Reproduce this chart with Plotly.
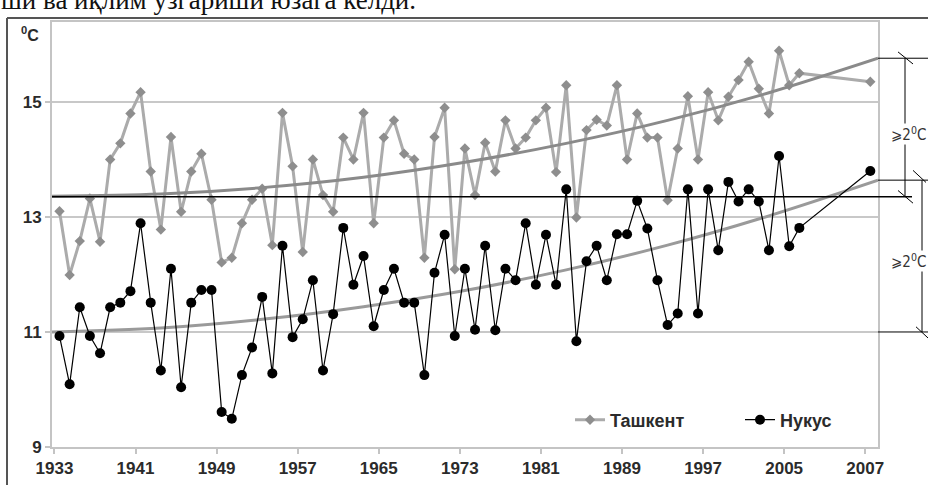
import plotly.graph_objects as go

# ---------------- data ----------------
years = list(range(1933, 2007)) + [2007]
# category slot of each year on the axis (the chart leaves empty slots before 2007)
slots = list(range(0, 74)) + [80]

tashkent = [13.10, 11.99, 12.58, 13.32, 12.57, 14.00, 14.28, 14.80, 15.17, 13.79,
            12.78, 14.39, 13.09, 13.79, 14.10, 13.30, 12.21, 12.29, 12.89, 13.30,
            13.49, 12.51, 14.81, 13.88, 12.39, 14.00, 13.38, 13.09, 14.38, 14.00,
            14.81, 12.89, 14.38, 14.68, 14.10, 14.00, 12.29, 14.39, 14.90, 12.09,
            14.19, 13.38, 14.29, 13.79, 14.68, 14.19, 14.38, 14.68, 14.90, 13.78,
            15.29, 12.99, 14.51, 14.69, 14.59, 15.29, 14.00, 14.80, 14.38, 14.38,
            13.29, 14.19, 15.10, 14.00, 15.17, 14.68, 15.09, 15.38, 15.70, 15.23,
            14.80, 15.89, 15.29, 15.50, 15.35]

nukus = [10.93, 10.09, 11.43, 10.93, 10.63, 11.43, 11.51, 11.71, 12.89, 11.51,
         10.33, 12.10, 10.04, 11.51, 11.73, 11.73, 9.61, 9.49, 10.25, 10.73,
         11.61, 10.28, 12.50, 10.91, 11.22, 11.90, 10.33, 11.31, 12.81, 11.82,
         12.32, 11.10, 11.73, 12.10, 11.51, 11.51, 10.25, 12.03, 12.69, 10.93,
         12.10, 11.04, 12.50, 11.03, 12.10, 11.90, 12.89, 11.82, 12.69, 11.82,
         13.48, 10.84, 12.23, 12.50, 11.90, 12.70, 12.70, 13.28, 12.80, 11.90,
         11.12, 11.32, 13.48, 11.32, 13.48, 12.42, 13.61, 13.27, 13.48, 13.27,
         12.42, 14.06, 12.49, 12.81, 13.80]

# trend curves, values read at a few axis slots
trend_slots = [-0.74, 10, 20, 30, 40, 50, 60, 70, 80.76]
tashkent_trend = [13.36, 13.40, 13.51, 13.69, 13.95, 14.28, 14.68, 15.16, 15.76]
nukus_trend = [11.00, 11.07, 11.22, 11.44, 11.72, 12.08, 12.51, 13.02, 13.64]

tick_years = [1933, 1941, 1949, 1957, 1965, 1973, 1981, 1989, 1997, 2005, 2007]
y_ticks = [9, 11, 13, 15]
base_level = 13.35          # initial Tashkent level (black reference line)
rise_label = "⩾2<sup>0</sup>C"
names = ["Ташкент", "Нукус"]

# ---------------- figure ----------------
W, H = 928, 485
ML, MR, MT, MB = 52, 50, 22, 38
PW, PH = W - ML - MR, H - MT - MB


def px(xp):
    return (xp - ML) / PW


def py(yp):
    return (H - MB - yp) / PH


FONT = "Liberation Sans, Arial, sans-serif"
TXT = "#2b2b2b"

fig = go.Figure()

fig.add_trace(go.Scatter(
    x=slots, y=tashkent, name=names[0], mode="lines+markers",
    line=dict(color="#ababab", width=3),
    marker=dict(symbol="diamond", size=8, color="#8e8e8e"),
))
fig.add_trace(go.Scatter(
    x=trend_slots, y=tashkent_trend, mode="lines", showlegend=False,
    line=dict(color="#8a8a8a", width=3, shape="spline"), hoverinfo="skip",
))
fig.add_trace(go.Scatter(
    x=trend_slots, y=nukus_trend, mode="lines", showlegend=False,
    line=dict(color="#9a9a9a", width=3, shape="spline"), hoverinfo="skip",
))
fig.add_trace(go.Scatter(
    x=slots, y=nukus, name=names[1], mode="lines+markers",
    line=dict(color="#000000", width=1.2),
    marker=dict(symbol="circle", size=10, color="#000000"),
))

tickvals = [slots[years.index(y)] - 0.5 for y in tick_years]

fig.update_layout(
    width=W, height=H, autosize=False,
    margin=dict(l=ML, r=MR, t=MT, b=MB, pad=0, autoexpand=False),
    paper_bgcolor="white", plot_bgcolor="white",
    font=dict(family=FONT, color=TXT),
    xaxis=dict(
        range=[-0.74, 80.76], tickvals=tickvals, automargin=False,
        ticktext=[str(y) for y in tick_years],
        showgrid=False, zeroline=False,
        showline=True, linecolor="#c4c4c4", linewidth=2, mirror=True,
        ticks="outside", ticklen=5, tickcolor="#c4c4c4", tickwidth=1.5,
        tickfont=dict(size=17, weight="bold", color=TXT),
    ),
    yaxis=dict(
        range=[9, 16.39], tickvals=y_ticks, automargin=False,
        showgrid=True, gridcolor="#c8c8c8", gridwidth=2, zeroline=False,
        showline=True, linecolor="#c4c4c4", linewidth=2, mirror=True,
        ticks="outside", ticklen=5, tickcolor="#c4c4c4", tickwidth=1.5,
        tickfont=dict(size=17, weight="bold", color=TXT),
    ),
    legend=dict(
        orientation="h", x=px(570), y=py(420), xanchor="left", yanchor="middle",
        bgcolor="rgba(0,0,0,0)", font=dict(size=18, weight="bold", color=TXT),
        entrywidth=125, entrywidthmode="pixels",
    ),
    showlegend=True,
)

shapes = []
# black reference line at the initial level
shapes.append(dict(type="line", xref="paper", yref="y", x0=0, x1=px(912),
                   y0=base_level, y1=base_level, line=dict(color="black", width=1.5)))
# outer frame of the scanned figure
shapes.append(dict(type="line", xref="paper", yref="paper", x0=px(7), x1=px(7),
                   y0=py(18), y1=py(H + 5), line=dict(color="#555", width=2)))
shapes.append(dict(type="line", xref="paper", yref="paper", x0=px(7), x1=px(W + 5),
                   y0=py(18), y1=py(18), line=dict(color="#555", width=2)))

t_end, n_end, n_start = tashkent_trend[-1], nukus_trend[-1], nukus_trend[0]
blk = dict(color="black", width=1)
# upper bracket (Tashkent)
shapes += [
    dict(type="line", xref="paper", yref="y", x0=1.0, x1=px(W + 5), y0=t_end, y1=t_end, line=blk),
    dict(type="line", xref="paper", yref="y", x0=px(905), x1=px(905), y0=t_end, y1=base_level, line=blk),
    dict(type="line", xref="paper", yref="y", x0=px(898), x1=px(913), y0=t_end + 0.11, y1=t_end - 0.1, line=blk),
    dict(type="line", xref="paper", yref="y", x0=px(898), x1=px(913), y0=base_level + 0.11, y1=base_level - 0.11, line=blk),
]
# lower bracket (Nukus)
shapes += [
    dict(type="line", xref="paper", yref="y", x0=1.0, x1=px(W + 5), y0=n_end, y1=n_end, line=blk),
    dict(type="line", xref="paper", yref="y", x0=px(922), x1=px(922), y0=n_end, y1=n_start, line=blk),
    dict(type="line", xref="paper", yref="y", x0=1.0, x1=px(W + 5), y0=n_start, y1=n_start, line=blk),
    dict(type="line", xref="paper", yref="y", x0=px(913), x1=px(926), y0=n_end + 0.17, y1=n_end - 0.04, line=blk),
    dict(type="line", xref="paper", yref="y", x0=px(916), x1=px(929), y0=n_start + 0.09, y1=n_start - 0.12, line=blk),
]
fig.update_layout(shapes=shapes)

annotations = [
    dict(text="ши ва иқлим ўзгариши юзага келди.", xref="paper", yref="paper",
         x=px(-1), y=py(17), xanchor="left", yanchor="bottom", showarrow=False,
         font=dict(family="Liberation Serif, Times New Roman, serif", size=27, color="#111")),
    dict(text="<sup>0</sup>C", xref="paper", yref="paper", x=px(30), y=py(34),
         xanchor="center", yanchor="middle", showarrow=False,
         font=dict(size=16, weight="bold", color=TXT)),
    dict(text=rise_label, xref="paper", yref="y", x=px(927), y=14.45,
         xanchor="right", yanchor="middle", showarrow=False, bgcolor="white",
         borderpad=0,
         font=dict(family="DejaVu Sans Condensed, DejaVu Sans, sans-serif", size=15, color="#333")),
    dict(text=rise_label, xref="paper", yref="y", x=px(927), y=12.23,
         xanchor="right", yanchor="middle", showarrow=False, bgcolor="white",
         borderpad=0,
         font=dict(family="DejaVu Sans Condensed, DejaVu Sans, sans-serif", size=15, color="#333")),
]
fig.update_layout(annotations=annotations)

fig.write_html("out.html", config={"displayModeBar": False},
               post_script="document.body.style.margin='0';document.body.style.overflow='hidden';")
